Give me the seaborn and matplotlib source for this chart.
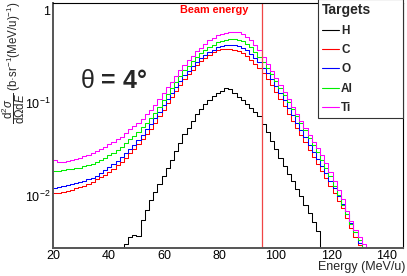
import numpy as np
import pandas as pd
import matplotlib
matplotlib.use("Agg")
import matplotlib.pyplot as plt
import seaborn as sns
from matplotlib.lines import Line2D
from matplotlib.ticker import FixedLocator, FixedFormatter, MultipleLocator, LogLocator, NullFormatter

# ---------------- data ----------------
e_low = 20.0          # lower edge of first bin (MeV/u)
bin_width = 1.5       # MeV/u
beam_energy = 95.0
angle_label = r"$\mathrm{\theta}$ = 4°"
targets = ["H", "C", "O", "Al", "Ti"]
colors = ["#000000", "#ff0000", "#0000ff", "#00ee00", "#ff00ff"]

H = [0, 0, 0, 0, 0, 0, 0, 0, 0, 0,
     0, 0, 0, 0, 0, 0, 0, 0.0030, 0.0036, 0.0038,
     0.0037, 0.00546, 0.00708, 0.00901, 0.0110, 0.0134, 0.0163, 0.0199, 0.0245, 0.0303,
     0.0373, 0.0459, 0.0542, 0.0639, 0.0755, 0.0874, 0.0970, 0.108, 0.120, 0.130,
     0.137, 0.145, 0.142, 0.129, 0.117, 0.107, 0.0968, 0.0881, 0.0803, 0.0732,
     0.0601, 0.0486, 0.0393, 0.0318, 0.0256, 0.0209, 0.0173, 0.0144, 0.0119, 0.00986,
     0.00797, 0.00647, 0.00525, 0.00420, 0, 0, 0, 0, 0, 0,
     0, 0, 0, 0, 0, 0, 0, 0, 0, 0,
     0, 0, 0, 0]
C = [0.0106, 0.0108, 0.0110, 0.0113, 0.0116, 0.0120, 0.0123, 0.0128, 0.0135, 0.0141,
     0.0150, 0.0158, 0.0167, 0.0179, 0.0195, 0.0212, 0.0231, 0.0258, 0.0286, 0.0318,
     0.0358, 0.0408, 0.0462, 0.0530, 0.0617, 0.0720, 0.0850, 0.1000, 0.116, 0.135,
     0.157, 0.182, 0.205, 0.231, 0.260, 0.285, 0.310, 0.335, 0.353, 0.371,
     0.383, 0.388, 0.386, 0.380, 0.366, 0.347, 0.326, 0.296, 0.268, 0.241,
     0.211, 0.183, 0.157, 0.132, 0.110, 0.0923, 0.0771, 0.0645, 0.0539, 0.0451,
     0.0376, 0.0314, 0.0263, 0.0220, 0.0184, 0.0154, 0.0128, 0.0106, 0.0088, 0.0073,
     0.0057, 0.0045, 0.0036, 0.0029, 0, 0, 0, 0, 0, 0,
     0, 0, 0, 0]
O = [0.01225, 0.01253, 0.01282, 0.0131, 0.0134, 0.0137, 0.0140, 0.0145, 0.0151, 0.0156,
     0.0165, 0.0176, 0.0188, 0.0202, 0.0220, 0.0239, 0.0262, 0.0290, 0.0320, 0.0353,
     0.0397, 0.0456, 0.0522, 0.0600, 0.0693, 0.0811, 0.0947, 0.1107, 0.129, 0.150,
     0.174, 0.201, 0.224, 0.251, 0.281, 0.306, 0.334, 0.361, 0.380, 0.400,
     0.414, 0.422, 0.430, 0.427, 0.419, 0.394, 0.371, 0.340, 0.306, 0.277,
     0.241, 0.210, 0.182, 0.153, 0.128, 0.107, 0.0893, 0.0741, 0.0615, 0.0511,
     0.0427, 0.0357, 0.0298, 0.0249, 0.0208, 0.0174, 0.0145, 0.0120, 0.0100, 0.0082,
     0.0064, 0.0051, 0.0040, 0.0031, 0, 0, 0, 0, 0, 0,
     0, 0, 0, 0]
Al = [0.0183, 0.0186, 0.0189, 0.0192, 0.0195, 0.0198, 0.0201, 0.0207, 0.0214, 0.0222,
      0.0231, 0.0244, 0.0257, 0.0272, 0.0292, 0.0314, 0.0340, 0.0372, 0.0406, 0.0445,
      0.0491, 0.0550, 0.0615, 0.0688, 0.0785, 0.0918, 0.1072, 0.125, 0.146, 0.170,
      0.197, 0.227, 0.254, 0.284, 0.318, 0.347, 0.378, 0.409, 0.430, 0.453,
      0.472, 0.480, 0.490, 0.490, 0.479, 0.466, 0.437, 0.407, 0.360, 0.319,
      0.278, 0.240, 0.207, 0.175, 0.147, 0.124, 0.104, 0.0869, 0.0727, 0.0608,
      0.0508, 0.0425, 0.0355, 0.0293, 0.0241, 0.0199, 0.0162, 0.0128, 0.0101, 0.0080,
      0.0064, 0.0050, 0.0040, 0.0033, 0, 0, 0, 0, 0, 0,
      0, 0, 0, 0]
Ti = [0.0243, 0.0230, 0.0231, 0.0237, 0.0243, 0.0249, 0.0256, 0.0269, 0.0275, 0.0290,
      0.0301, 0.0316, 0.0336, 0.0362, 0.0385, 0.0410, 0.0436, 0.0476, 0.0520, 0.0560,
      0.0611, 0.0675, 0.0755, 0.0844, 0.0957, 0.111, 0.129, 0.150, 0.170, 0.197,
      0.226, 0.256, 0.290, 0.324, 0.362, 0.395, 0.436, 0.476, 0.507, 0.540,
      0.560, 0.578, 0.588, 0.591, 0.581, 0.560, 0.520, 0.476, 0.426, 0.371,
      0.316, 0.265, 0.223, 0.187, 0.157, 0.132, 0.110, 0.0910, 0.0764, 0.0643,
      0.0540, 0.0453, 0.0381, 0.0324, 0.0275, 0.0226, 0.0180, 0.0144, 0.0115, 0.0092,
      0.0068, 0.0053, 0.0043, 0.0036, 0.0030, 0, 0, 0, 0, 0,
      0, 0, 0, 0]

x_ticks = [20, 40, 60, 80, 100, 120, 140]
y_ticks = [0.01, 0.1, 1]
y_tick_labels = ["10$^{-2}$", "10$^{-1}$", "1"]

series = {"H": H, "C": C, "O": O, "Al": Al, "Ti": Ti}

# ---------------- style ----------------
sns.set_style("white")
plt.rcParams['font.family'] = ['Liberation Sans', 'DejaVu Sans']
plt.rcParams['mathtext.fontset'] = 'custom'
plt.rcParams['mathtext.rm'] = 'Liberation Sans'
plt.rcParams['mathtext.it'] = 'Liberation Sans:italic'
plt.rcParams['mathtext.bf'] = 'Liberation Sans:bold'
plt.rcParams['mathtext.sf'] = 'Liberation Sans'

W, Hpx = 407, 276
fig = plt.figure(figsize=(W / 100, Hpx / 100), dpi=100)
fig.patch.set_facecolor("white")
ax_left, ax_right, ax_top, ax_bot = 53, 403, 3, 247.7
ax = fig.add_axes([ax_left / W, 1 - ax_bot / Hpx, (ax_right - ax_left) / W, (ax_bot - ax_top) / Hpx])
ax.set_facecolor("white")

ymin, ymax = 0.00274, 1.21
xmin, xmax = 20.0, 145.8

nb = len(C)
edges = [e_low + bin_width * k for k in range(nb + 1)]
centers = [0.5 * (edges[k] + edges[k + 1]) for k in range(nb)]

ax.set_yscale('log')
for name, col in zip(targets, colors):
    vals = np.clip(np.asarray(series[name], dtype=float), ymin, None)
    df = pd.DataFrame({"E": centers, "w": vals})
    sns.histplot(data=df, x="E", weights="w", bins=edges, element="step", fill=False,
                 color=col, linewidth=0.75, ax=ax)

ax.axvline(beam_energy, color="#f04545", lw=0.9)
ax.text(90.0, 0.972, "Beam energy", transform=ax.get_xaxis_transform(), ha="right", va="center",
        color="#ff0000", fontsize=7.8, fontweight="bold")

ax.set_xlim(xmin, xmax)
ax.set_ylim(ymin, ymax)
ax.set_xlabel("")
ax.set_ylabel("")

ax.xaxis.set_major_locator(FixedLocator(x_ticks))
ax.xaxis.set_minor_locator(MultipleLocator(5))
ax.yaxis.set_major_locator(FixedLocator(y_ticks))
ax.yaxis.set_major_formatter(FixedFormatter(y_tick_labels))
ax.yaxis.set_minor_locator(LogLocator(base=10, subs=np.arange(2, 10)))
ax.yaxis.set_minor_formatter(NullFormatter())

ax.tick_params(which="both", direction="in", top=False, right=False, colors="#555555",
               labelcolor="black", labelsize=9)
ax.tick_params(axis="y", which="major", length=7.2, width=0.8, pad=2)
ax.tick_params(axis="y", which="minor", length=3.6, width=0.8)
ax.tick_params(axis="x", which="major", length=4.8, width=0.8, pad=2)
ax.tick_params(axis="x", which="minor", length=2.4, width=0.8)

for s in ["top", "right"]:
    ax.spines[s].set_color("black")
    ax.spines[s].set_linewidth(0.8)
for s in ["left", "bottom"]:
    ax.spines[s].set_color("#555555")
    ax.spines[s].set_linewidth(1.4)

# texts
fig.text(80 / W, 1 - 88 / Hpx, angle_label, fontsize=18, fontweight="bold", va="baseline", ha="left")
fig.text(405 / W, 1 - 270 / Hpx, "Energy (MeV/u)", fontsize=9, ha="right", va="baseline")
ylab = (r"$\dfrac{\mathrm{d}^{2}\sigma}{\mathrm{d}\Omega\mathrm{d}E}$"
        r" (b·sr$^{-1}$(MeV/u)$^{-1}$)")
fig.text(13 / W, 1 - 1 / Hpx, ylab, rotation=90, ha="center", va="top", fontsize=8.3)

# legend
handles = [Line2D([], [], color=c, lw=0.8) for c in colors]
leg = ax.legend(handles, targets, title="Targets", loc="upper left",
                bbox_to_anchor=(318 / W, 1 - 2 / Hpx, 85 / W, 0.01), bbox_transform=fig.transFigure,
                mode="expand", borderaxespad=0, frameon=True, fancybox=False,
                edgecolor="#333333", framealpha=1,
                prop={"weight": "bold", "size": 8.5},
                title_fontproperties={"weight": "bold", "size": 10},
                handlelength=1.4, handletextpad=0.2, labelspacing=0.62, borderpad=0.35,
                alignment="left")
leg.get_frame().set_linewidth(0.8)

fig.savefig("out.png", dpi=100, facecolor="white")
